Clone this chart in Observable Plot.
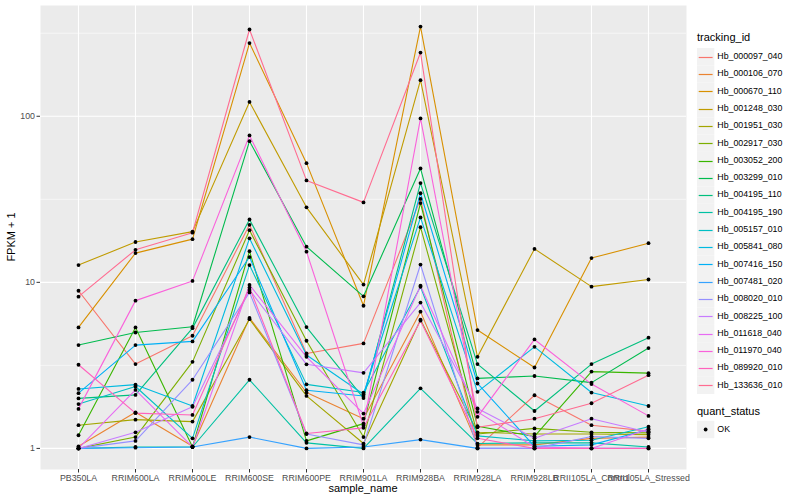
<!DOCTYPE html>
<html>
<head>
<meta charset="utf-8">
<script src="https://cdn.jsdelivr.net/npm/d3@7"></script>
<script src="https://cdn.jsdelivr.net/npm/@observablehq/plot@0.6"></script>
<style>
  html, body { margin: 0; padding: 0; background: white; }
  #chart { width: 800px; height: 500px; }
</style>
</head>
<body>
<div id="chart"></div>
<script>
// ---- data (FPKM + 1) ----
const samples = ["PB350LA","RRIM600LA","RRIM600LE","RRIM600SE","RRIM600PE","RRIM901LA","RRIM928BA","RRIM928LA","RRIM928LB","RRII105LA_Control","RRII105LA_Stressed"];
const trackingIds = ["Hb_000097_040","Hb_000106_070","Hb_000670_110","Hb_001248_030","Hb_001951_030","Hb_002917_030","Hb_003052_200","Hb_003299_010","Hb_004195_110","Hb_004195_190","Hb_005157_010","Hb_005841_080","Hb_007416_150","Hb_007481_020","Hb_008020_010","Hb_008225_100","Hb_011618_040","Hb_011970_040","Hb_089920_010","Hb_133636_010"];
const hb_000097_040 = [8.9, 3.22, 4.77, 22.2, 3.73, 4.29, 31.8, 1.01, 2.09, 1.38, 1.27];
const hb_000106_070 = [1.03, 1.65, 1.03, 6.1, 2.17, 1.51, 6.66, 1.05, 1.05, 1.15, 1.17];
const hb_000670_110 = [5.35, 15.0, 18.2, 276, 52.2, 7.23, 347, 5.16, 3.07, 14.0, 17.2];
const hb_001248_030 = [12.7, 17.5, 20.2, 122, 28.3, 9.69, 165, 3.56, 15.9, 9.42, 10.4];
const hb_001951_030 = [1.38, 1.49, 1.45, 6.0, 2.07, 1.07, 5.96, 1.25, 1.22, 1.22, 1.21];
const hb_002917_030 = [1.0, 1.17, 3.32, 20.6, 4.45, 1.17, 21.5, 1.22, 1.32, 1.25, 1.24];
const hb_003052_200 = [1.20, 5.35, 1.02, 15.4, 1.11, 1.41, 30.0, 1.36, 1.18, 2.90, 2.84];
const hb_003299_010 = [4.19, 4.99, 5.4, 70.8, 16.4, 8.24, 48.5, 2.64, 2.73, 2.49, 4.02];
const hb_004195_110 = [2.0, 2.10, 5.3, 23.9, 5.38, 2.01, 39.6, 3.22, 1.68, 3.22, 4.64];
const hb_004195_190 = [1.0, 1.02, 1.02, 2.59, 1.08, 1.0, 2.30, 1.07, 1.08, 1.08, 1.02];
const hb_005157_010 = [1.85, 2.36, 1.15, 12.7, 2.43, 2.17, 9.4, 1.19, 1.11, 1.12, 1.35];
const hb_005841_080 = [2.28, 2.42, 1.80, 18.4, 3.65, 2.12, 24.6, 2.19, 4.09, 2.17, 1.80];
const hb_007416_150 = [2.15, 4.19, 4.41, 14.2, 2.24, 2.07, 34.4, 2.46, 1.03, 1.05, 1.30];
const hb_007481_020 = [1.0, 1.01, 1.02, 1.17, 1.0, 1.02, 1.13, 1.0, 1.0, 1.0, 1.0];
const hb_008020_010 = [1.0, 1.11, 2.59, 8.7, 1.22, 1.05, 12.8, 1.0, 1.0, 1.18, 1.15];
const hb_008225_100 = [1.0, 1.25, 1.78, 9.0, 3.21, 2.85, 7.55, 1.74, 1.15, 1.51, 1.25];
const hb_011618_040 = [1.0, 2.25, 1.02, 9.65, 3.56, 1.62, 9.55, 1.66, 1.02, 1.0, 1.31];
const hb_011970_040 = [1.73, 7.76, 10.2, 76.7, 15.3, 1.37, 97, 1.55, 4.53, 2.44, 1.57];
const hb_089920_010 = [3.19, 1.63, 1.59, 9.3, 1.23, 1.33, 5.88, 1.15, 1.0, 1.0, 1.0];
const hb_133636_010 = [8.2, 15.7, 19.9, 333, 41.1, 30.3, 242, 1.34, 1.51, 1.87, 2.76];
const seriesValues = [hb_000097_040, hb_000106_070, hb_000670_110, hb_001248_030, hb_001951_030, hb_002917_030, hb_003052_200, hb_003299_010, hb_004195_110, hb_004195_190, hb_005157_010, hb_005841_080, hb_007416_150, hb_007481_020, hb_008020_010, hb_008225_100, hb_011618_040, hb_011970_040, hb_089920_010, hb_133636_010];
const yTicks = [1, 10, 100];
const quantStatus = ["OK"];

// ggplot2 default hue palette for 20 levels
const palette = ["#F8766D","#EA8331","#D89000","#C09B00","#A3A500","#7CAE00","#39B600","#00BB4E","#00BF7D","#00C1A3","#00BFC4","#00BAE0","#00B0F6","#35A2FF","#9590FF","#C77CFF","#E76BF3","#FA62DB","#FF62BC","#FF6C91"];

const rows = [];
trackingIds.forEach((id, i) => {
  samples.forEach((s, j) => rows.push({tracking_id: id, sample_name: s, value: seriesValues[i][j], quant_status: "OK"}));
});

const minorTicks = [Math.sqrt(10), Math.sqrt(1000), Math.sqrt(100000)];
const yDomain = [Math.pow(10, -0.127), Math.pow(10, 2.667)];

const plot = Plot.plot({
  width: 800,
  height: 500,
  marginLeft: 40,
  marginRight: 114,
  marginTop: 5,
  marginBottom: 31,
  style: {fontFamily: "'Liberation Sans', Arial, Helvetica, sans-serif", fontSize: "8.8px", background: "white"},
  x: {type: "point", domain: samples, padding: 0.6, label: null},
  y: {type: "log", domain: yDomain, label: null},
  color: {domain: trackingIds, range: palette},
  marks: [
    Plot.frame({fill: "#EBEBEB", stroke: "none"}),
    Plot.ruleY(minorTicks, {stroke: "white", strokeWidth: 0.55}),
    Plot.ruleY(yTicks, {stroke: "white", strokeWidth: 1.1}),
    Plot.ruleX(samples, {stroke: "white", strokeWidth: 1.1}),
    Plot.line(rows, {x: "sample_name", y: "value", z: "tracking_id", stroke: "tracking_id", strokeWidth: 1.1}),
    Plot.dot(rows, {x: "sample_name", y: "value", r: 1.9, fill: "black", stroke: "none"}),
    Plot.axisY({ticks: yTicks, tickFormat: d => String(d), tickSize: 3.5, tickPadding: 2, stroke: "#333333", fill: "#4D4D4D", label: null}),
    Plot.axisX({tickSize: 3.5, tickPadding: 2, stroke: "#333333", fill: "#4D4D4D", label: null})
  ]
});

document.getElementById("chart").appendChild(plot);

// titles and legend
const svg = d3.select(plot);
const font = "'Liberation Sans', Arial, Helvetica, sans-serif";
svg.append("text")
  .attr("transform", "translate(12,237) rotate(-90)")
  .attr("text-anchor", "middle").attr("dominant-baseline", "middle")
  .attr("font-family", font).attr("font-size", 11).attr("fill", "black")
  .text("FPKM + 1");
svg.append("text")
  .attr("x", 363).attr("y", 489)
  .attr("text-anchor", "middle").attr("dominant-baseline", "middle")
  .attr("font-family", font).attr("font-size", 11).attr("fill", "black")
  .text("sample_name");

const leg = svg.append("g").attr("font-family", font).attr("text-anchor", "start").attr("fill", "black");
const lx = 697, step = 17.3, y0 = 56.7, key = 17.3;
leg.append("text").attr("x", lx).attr("y", 38.5).attr("text-anchor", "start")
  .attr("dominant-baseline", "middle").attr("font-size", 11).text("tracking_id");
trackingIds.forEach((id, i) => {
  const cy = y0 + i * step;
  const ly = Math.round(cy) + 0.5;
  leg.append("rect").attr("x", lx).attr("y", cy - key / 2).attr("width", key).attr("height", key)
    .attr("fill", "#F2F2F2").attr("stroke", "none");
  leg.append("line").attr("x1", lx + 1.7).attr("x2", lx + key - 1.7).attr("y1", ly).attr("y2", ly)
    .attr("stroke", palette[i]).attr("stroke-width", 1.2);
  leg.append("text").attr("x", lx + key + 3).attr("y", cy).attr("text-anchor", "start")
    .attr("dominant-baseline", "middle").attr("font-size", 8.8).text(id);
});
leg.append("text").attr("x", lx).attr("y", 412.5).attr("text-anchor", "start")
  .attr("dominant-baseline", "middle").attr("font-size", 11).text("quant_status");
quantStatus.forEach((q, i) => {
  const cy = 429.5 + i * step;
  leg.append("rect").attr("x", lx).attr("y", cy - key / 2).attr("width", key).attr("height", key)
    .attr("fill", "#F2F2F2").attr("stroke", "none");
  leg.append("circle").attr("cx", lx + key / 2).attr("cy", cy).attr("r", 1.9).attr("fill", "black");
  leg.append("text").attr("x", lx + key + 3).attr("y", cy).attr("text-anchor", "start")
    .attr("dominant-baseline", "middle").attr("font-size", 8.8).text(q);
});
</script>
</body>
</html>
